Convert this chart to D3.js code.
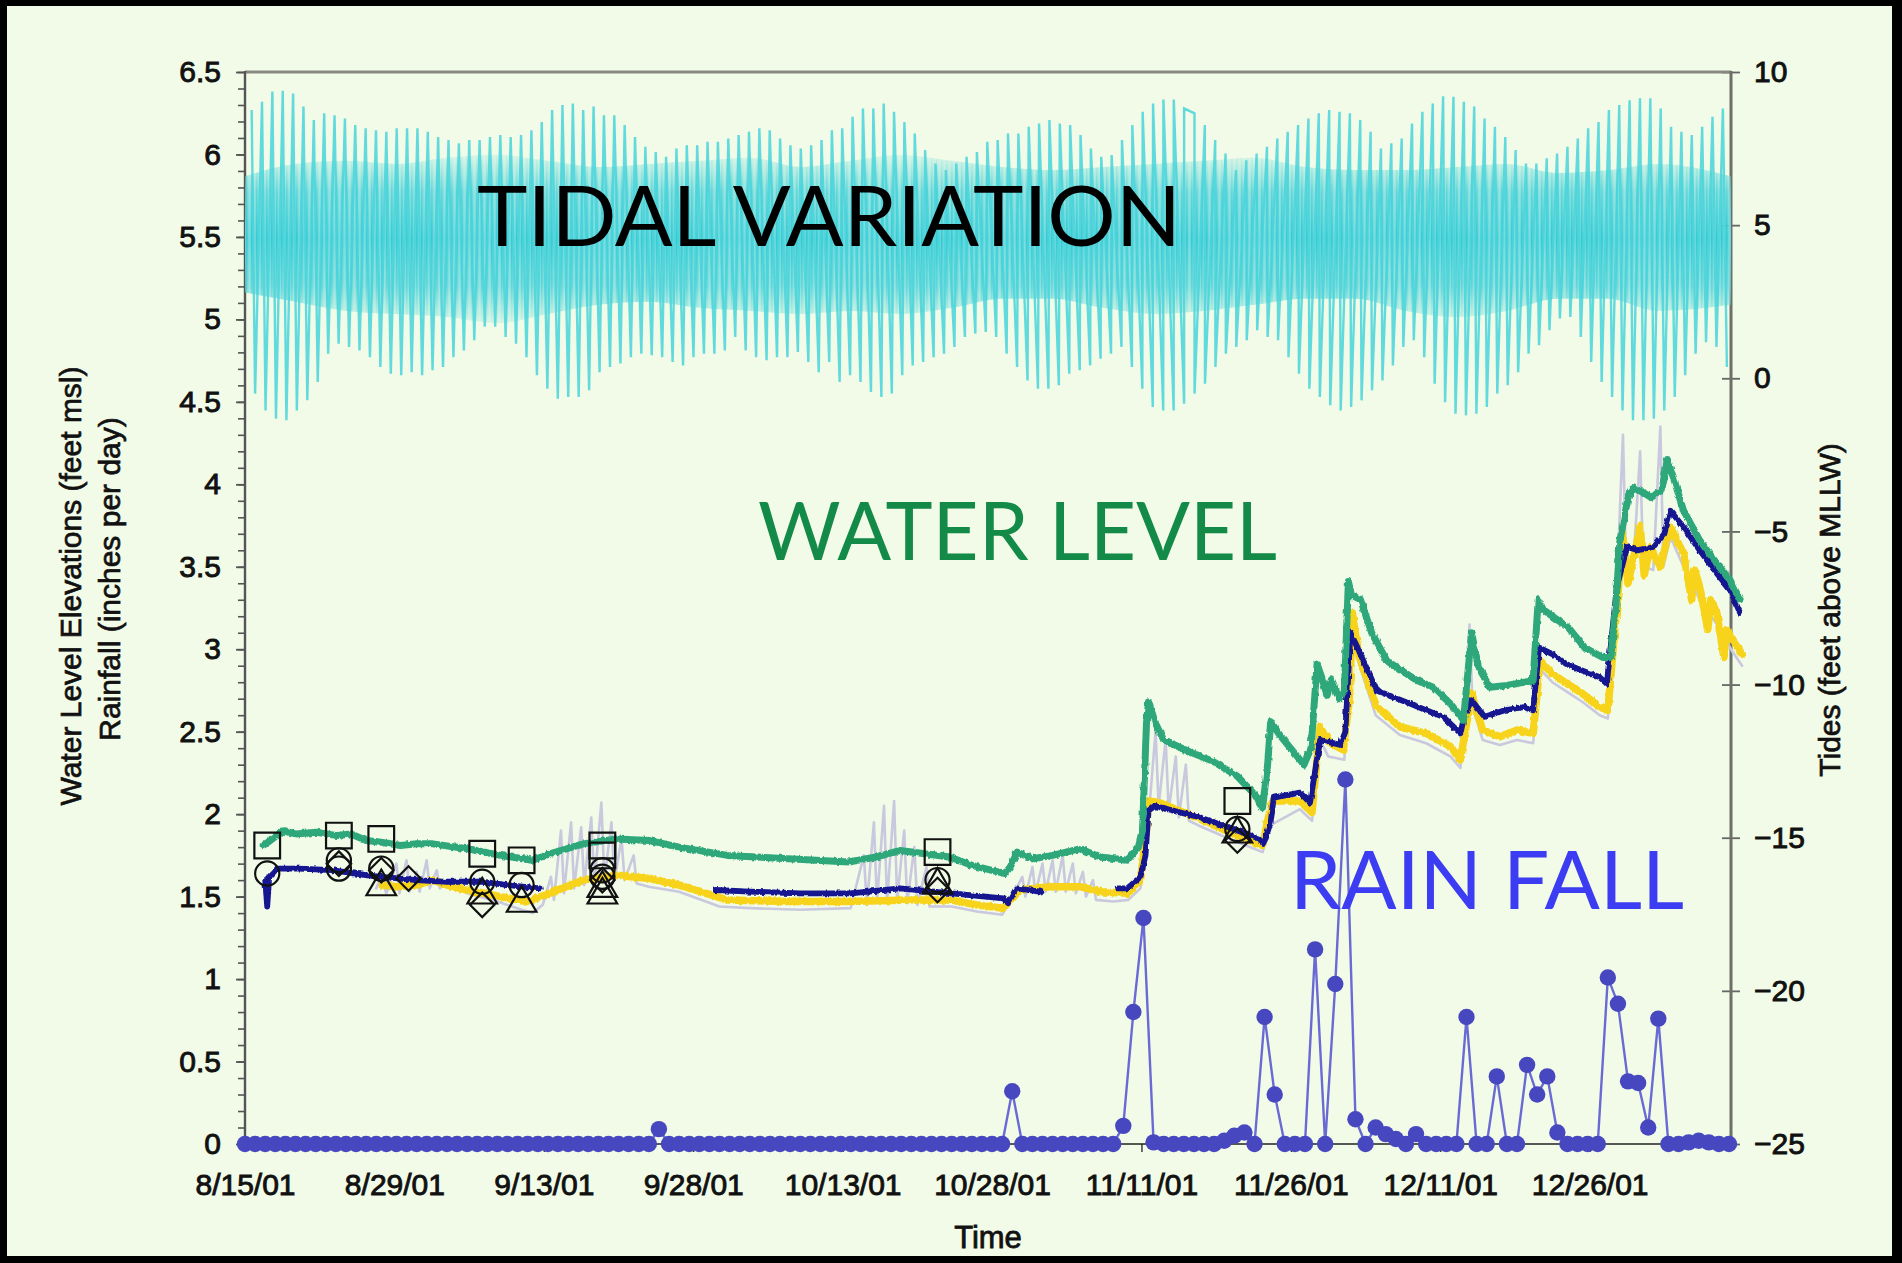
<!DOCTYPE html>
<html>
<head>
<meta charset="utf-8">
<script src="https://cdn.jsdelivr.net/npm/d3@7"></script>
<style>
  body { margin: 0; background: #000; }
  svg { display: block; }
</style>
</head>
<body>
<svg id="chart" width="1902" height="1263"></svg>
<script>
// ---------- data (days counted from 8/15/01) ----------
const xTickLabels = ["8/15/01","8/29/01","9/13/01","9/28/01","10/13/01","10/28/01","11/11/01","11/26/01","12/11/01","12/26/01"];
const xTickStepDays = 14.8;
const leftTicks = [0,0.5,1,1.5,2,2.5,3,3.5,4,4.5,5,5.5,6,6.5];
const rightTicks = [-25,-20,-15,-10,-5,0,5,10];

// Tide extremes (feet above MLLW), one high and one low per tidal day
const tideHighStart = 0.66, tideHighStep = 1.0263;
const tideHigh = [
  8.76,9.03,9.36,9.39,9.30,8.87,8.43,8.65,8.59,8.48,8.27,8.16,8.10,8.05,8.16,8.16,8.16,8.05,7.88,7.78,
  7.67,7.78,7.78,7.88,7.94,7.88,7.94,8.10,8.37,8.76,8.92,8.97,8.76,8.87,8.59,8.59,8.27,7.88,7.56,7.39,
  7.23,7.50,7.61,7.61,7.72,7.72,
  7.83,7.94,8.05,8.16,8.10,7.83,7.61,7.50,7.61,7.78,8.10,8.16,8.54,8.81,8.81,8.97,8.70,8.37,7.99,7.45,
  7.01,6.80,7.01,7.23,7.39,7.72,7.78,7.99,7.99,8.21,8.32,8.43,8.32,8.27,7.94,7.50,7.23,7.29,7.78,8.27,
  8.70,8.97,9.10,9.10,8.81,8.65,8.27,7.78,7.34,
  6.80,7.12,7.34,7.56,7.83,8.05,8.27,8.48,8.65,8.76,8.70,8.65,8.43,8.05,7.50,7.67,7.83,8.32,8.70,8.97,
  9.21,9.19,9.03,8.87,8.48,8.21,7.88,7.45,7.01,7.01,7.18,7.34,7.56,7.83,8.16,8.37,8.76,8.92,9.08,9.14,
  9.14,8.81,8.21,8.05,7.94,8.21,8.54,8.81
];
const tideLowStart = 1.0, tideLowStep = 1.034;
const tideLow = [
  -0.50,-1.05,-1.32,-1.37,-1.05,-0.72,-0.12,0.80,1.13,1.02,0.91,0.69,0.37,0.15,0.10,0.20,0.10,0.26,0.37,0.69,
  0.91,1.24,1.68,1.68,1.35,1.13,0.69,0.10,-0.34,-0.67,-0.61,-0.61,-0.39,0.20,0.37,0.48,0.69,0.80,0.75,0.69,
  0.53,0.42,0.69,0.80,0.80,0.91,
  1.35,0.91,0.69,0.59,0.69,0.69,0.86,0.53,0.20,0.53,-0.12,0.10,-0.12,-0.45,-0.61,-0.50,0.10,0.42,0.53,0.69,
  0.80,1.02,1.35,1.46,1.51,1.35,0.80,0.37,-0.07,-0.34,-0.34,-0.23,0.15,0.26,0.42,0.64,0.80,1.02,0.37,-0.34,
  -0.94,-1.05,-1.05,-0.83,-0.50,-0.18,0.37,
  0.80,1.02,1.24,1.57,1.35,1.24,0.69,0.15,-0.34,-0.61,-0.88,-1.05,-0.94,-0.72,-0.39,-0.07,0.42,1.02,1.24,0.69,
  -0.18,-0.78,-1.16,-1.21,-1.16,-0.94,-0.50,-0.23,0.20,0.80,1.08,1.57,1.95,2.00,1.35,0.53,-0.12,-0.61,-1.05,-1.37,
  -1.37,-1.32,-1.05,-0.61,0.10,0.80,1.18,1.02,0.37
];
// Dense core of the tidal record (lower high / higher low waters)
const tideCoreDays   = [0,5,10,15,20,25,30,35,40,45,50,55,60,65,70,75,80,85,90,95,100,105,110,115,120,125,130,135,140,147.2];
const tideCoreTop    = [6.6,7.0,7.1,7.0,7.2,7.3,7.1,6.9,7.0,7.1,7.2,6.9,7.1,7.3,7.1,6.9,6.8,6.9,7.0,7.1,7.2,6.9,6.8,6.8,6.9,7.0,6.7,6.8,7.0,6.6];
const tideCoreBottom = [2.8,2.5,2.2,2.1,2.0,1.8,2.1,2.4,2.5,2.3,2.2,2.1,2.2,2.1,2.3,2.6,2.6,2.3,2.1,2.2,2.4,2.6,2.6,2.2,2.0,2.2,2.6,2.6,2.2,2.4];

// Water level elevations (feet msl): [day, value]
const wellGreen = [
  [1.8,1.81],[2.5,1.84],[3.8,1.90],[5.0,1.88],[7.1,1.89],[9.1,1.87],[10.5,1.88],[12,1.84],[13.5,1.83],[15.4,1.81],[17,1.82],[18.6,1.82],[22,1.79],[25.3,1.75],
  [28.5,1.72],[30.2,1.76],[33.5,1.82],[36.8,1.85],[40.1,1.84],[43,1.80],[47.8,1.75],[53.8,1.73],[59.8,1.71],[62.5,1.74],
  [64.9,1.78],[69.8,1.74],[72,1.69],[75.3,1.64],[75.8,1.68],[76.5,1.77],[78,1.73],[80,1.75],[82.7,1.79],[84.7,1.74],
  [87.4,1.72],[88.5,1.80],[88.9,1.90],[89.3,2.55],[89.5,2.68],[90.2,2.55],[91,2.45],[93.5,2.38],[95.9,2.32],[98.3,2.23],
  [100,2.12],[100.8,2.04],[101.3,2.30],[101.6,2.56],[102.5,2.48],[104.9,2.30],[105.6,2.40],[106.2,2.91],[106.6,2.84],[107.2,2.72],
  [107.6,2.82],[108.4,2.70],[108.9,2.75],[109.3,3.41],[109.6,3.33],[110.5,3.30],[111.6,3.10],[113.1,2.93],[116.1,2.81],[117.7,2.77],
  [119.4,2.67],[120.7,2.57],[121.2,2.90],[121.5,3.10],[122.2,2.89],[123.3,2.77],[125,2.78],[127.6,2.81],[128.1,3.30],[128.6,3.24],
  [131.1,3.13],[132.7,3.01],[134.5,2.95],[135.3,2.95],[135.8,3.26],[136.2,3.66],[137,3.92],[137.5,3.98],[138.5,3.95],[139.3,3.92],
  [140.2,3.96],[140.5,4.01],[140.9,4.15],[141.5,4.04],[142.5,3.84],[144.1,3.66],[145.8,3.52],[147.1,3.42],[148.1,3.30]
];
const wellNavy = [
  [2.0,1.60],[2.2,1.44],[2.4,1.62],[3.2,1.67],[5.4,1.67],[8.6,1.66],[12,1.63],[13.5,1.62],[17,1.60],[20,1.59],
  [23.6,1.59],[26,1.57],[29.2,1.55], null,
  [46.6,1.54],[50,1.53],[55,1.52],[60,1.52],[64.9,1.55],[70,1.52],[75.1,1.49],[75.6,1.46],[76.4,1.55],[78.8,1.53], null,
  [86.4,1.55],[87.4,1.55],[88.7,1.62],[89.2,1.75],[89.5,2.02],[90.1,2.05],[94.6,1.98],[97.9,1.91],[100.5,1.85],[100.9,1.82],
  [101.6,1.95],[101.9,2.10],[104.5,2.13],[105.5,2.07],[106.5,2.45],[108.5,2.42],[109,2.50],[109.5,3.10],[110.2,3.01],[112.1,2.75],
  [113.7,2.71],[115.4,2.67],[117,2.63],[118.7,2.59],[120.4,2.49],[120.8,2.60],[121.5,2.69],[122.8,2.59],[124.8,2.63],[126.8,2.65],
  [127.6,2.63],[128.2,3.01],[129.5,2.97],[130.9,2.91],[132.5,2.87],[134.2,2.83],[134.9,2.79],[135.9,3.38],[136.9,3.62],[138,3.60],
  [139.5,3.62],[140.6,3.70],[141.2,3.84],[142.5,3.74],[144.1,3.60],[145.8,3.46],[147.1,3.36],[148.1,3.22]
];
const wellYellow = [
  [13.6,1.57],[15,1.56],[17,1.57],[18.6,1.60],[20,1.57],[22,1.54],[25.3,1.50],[27.9,1.47],[30.2,1.52],[33.5,1.60],
  [36.8,1.63],[40.1,1.61],[43,1.57],[47.8,1.48],[53.8,1.47],[59.8,1.47],[65.9,1.48],[69.8,1.48],[72.5,1.45],[75.1,1.43],
  [76.8,1.54],[79.7,1.56],[82.7,1.56],[84.7,1.53],[87.4,1.52],[88.7,1.60],[89.3,1.90],[89.5,2.08],[90.6,2.07],[94.6,1.97],
  [97.9,1.88],[100.8,1.81],[101.3,1.96],[101.8,2.08],[104.5,2.08],[105.7,2.01],[106.5,2.53],[107.5,2.43],[108.8,2.39],[109.4,2.70],
  [109.7,3.22],[110.3,2.97],[112.1,2.65],[114.4,2.53],[117,2.49],[119.4,2.41],[120.4,2.33],[121.5,2.73],[122.6,2.51],[124.3,2.47],
  [126,2.51],[127.6,2.49],[128.3,2.93],[129.5,2.85],[131,2.79],[132.5,2.73],[134.2,2.65],[135,2.63],[135.9,3.26],[136.5,3.70],
  [137.0,3.40],[137.5,3.54],[138.2,3.75],[138.6,3.45],[139.2,3.62],[140.2,3.50],[141.2,3.74],[142.5,3.58],[143.3,3.30],[143.6,3.48],
  [144.1,3.38],[144.9,3.12],[145.2,3.30],[145.8,3.22],[146.5,2.95],[146.8,3.12],[147.4,3.05],[148.3,2.97]
];
const wellGray = [
  [13,1.55],[13.5,1.62],[14,1.52],[15,1.70],[15.3,1.52],[16,1.72],[16.3,1.53],[17,1.65],[17.3,1.53],[18,1.72],
  [18.3,1.55],[19,1.66],[19.3,1.55],[20,1.60],[22,1.52],[25,1.47],[27.4,1.42],[28.5,1.40],[29.5,1.45],[30.3,1.62],
  [30.6,1.48],[31.3,1.90],[31.6,1.52],[32.3,1.95],[32.6,1.55],[33.3,1.92],[33.6,1.57],[34.3,1.98],[34.6,1.58],[35.3,2.07],
  [35.6,1.60],[36.3,1.95],[36.6,1.60],[37.3,1.85],[37.6,1.60],[38.5,1.75],[38.8,1.58],[40,1.56],[43,1.53],[47,1.44],
  [50,1.43],[55,1.42],[60,1.43],[61.3,1.75],[61.6,1.45],[62.3,1.95],[62.6,1.46],[63.3,2.05],[63.6,1.46],[64.3,2.08],
  [64.6,1.48],[65.3,1.90],[65.6,1.46],[66.3,1.80],[66.6,1.45],[67.5,1.68],[67.8,1.44],[70,1.44],[72.5,1.41],[75,1.39],
  [76,1.50],[77,1.62],[77.3,1.50],[78,1.68],[78.3,1.52],[79,1.70],[79.3,1.53],[80,1.72],[80.3,1.53],[81,1.75],
  [81.3,1.53],[82,1.70],[82.3,1.52],[83,1.65],[83.3,1.50],[84,1.60],[84.3,1.48],[86,1.47],[87.5,1.48],[88.7,1.55],
  [89.3,1.85],[89.6,2.05],[90.2,2.50],[90.5,2.05],[91.2,2.45],[91.5,2.02],[92.2,2.35],[92.5,1.98],[93.2,2.30],[93.5,1.96],
  [94.5,1.93],[97.9,1.84],[100.8,1.77],[101.5,1.93],[104.5,2.03],[105.7,1.96],[106.5,2.45],[107.3,2.35],[108.9,2.33],[109.5,3.15],
  [110.3,2.92],[112,2.60],[114.4,2.48],[117,2.43],[119.4,2.35],[120.4,2.28],[121.3,3.15],[121.6,2.65],[122.6,2.45],[124.3,2.42],
  [126,2.45],[127.6,2.43],[128.3,2.88],[129.5,2.80],[131,2.74],[132.5,2.68],[134.2,2.60],[135,2.58],[135.8,3.20],[136.2,3.85],
  [136.5,4.30],[136.8,3.50],[137.5,3.48],[138.2,4.20],[138.5,3.50],[139.5,3.48],[140.2,4.35],[140.5,3.50],[141.2,3.68],[142.5,3.50],
  [144.1,3.30],[145.8,3.15],[147.4,2.98],[148.3,2.90]
];

// Manual readings: [day, value]
const squareMarks   = [[2.2,1.81],[9.3,1.87],[13.5,1.85],[23.5,1.76],[27.4,1.72],[35.4,1.81],[35.4,1.75],[68.6,1.77],[98.3,2.08]];
const circleMarks   = [[2.2,1.64],[9.3,1.72],[9.3,1.67],[13.5,1.67],[23.5,1.59],[27.4,1.57],[35.4,1.66],[35.4,1.62],[68.6,1.60],[98.3,1.91]];
const triangleMarks = [[13.5,1.56],[23.5,1.51],[27.4,1.46],[35.4,1.55],[35.4,1.51],[68.6,1.57],[98.3,1.88]];
const diamondMarks  = [[9.3,1.70],[13.5,1.66],[16.2,1.61],[23.5,1.45],[35.4,1.60],[68.6,1.54],[98.3,1.84]];

// Daily rainfall (inches per day), one value per day from 8/15/01
const rainfall = [
  0,0,0,0,0,0,0,0,0,0,
  0,0,0,0,0,0,0,0,0,0,
  0,0,0,0,0,0,0,0,0,0,
  0,0,0,0,0,0,0,0,0,0,
  0,0.09,0,0,0,0,0,0,0,0,
  0,0,0,0,0,0,0,0,0,0,
  0,0,0,0,0,0,0,0,0,0,
  0,0,0,0,0,0,0.32,0,0,0,
  0,0,0,0,0,0,0,0.11,0.80,1.37,
  0.01,0,0,0,0,0,0,0.02,0.05,0.07,
  0,0.77,0.30,0,0,0,1.18,0,0.97,2.21,
  0.15,0,0.10,0.06,0.03,0,0.06,0,0,0,
  0,0.77,0,0,0.41,0,0,0.48,0.30,0.41,
  0.07,0,0,0,0,1.01,0.85,0.38,0.37,0.10,
  0.76,0,0,0.01,0.02,0.01,0,0
];

// ---------- layout ----------
const W = 1902, H = 1263;
const P = { left: 245, right: 1731, top: 72, bottom: 1144 };
const DAY = 86400000;
const t0 = Date.UTC(2001, 7, 15);
const dayDate = d => new Date(t0 + d * DAY);

const x  = d3.scaleUtc().domain([dayDate(0), dayDate(147.2)]).range([P.left, P.right]);
const yL = d3.scaleLinear().domain([0, 6.5]).range([P.bottom, P.top]);
const yR = d3.scaleLinear().domain([-25, 10]).range([P.bottom, P.top]);

const AXIS_FONT = "'Liberation Sans', Arial, Helvetica, sans-serif";
const svg = d3.select("#chart");
const defs = svg.append("defs");

// vertical hatching that gives the tidal core its line-built texture
const pat = defs.append("pattern").attr("id", "tideMesh").attr("patternUnits", "userSpaceOnUse")
  .attr("width", 5).attr("height", 40);
pat.append("rect").attr("width", 5).attr("height", 40).attr("fill", "#86dfe2");
pat.append("rect").attr("x", 0.6).attr("width", 2.2).attr("height", 40).attr("fill", "#33cbd3");
pat.append("rect").attr("x", 3.4).attr("width", 0.9).attr("height", 40).attr("fill", "#52d3d9");

// the core fades out towards its upper and lower edges
const grad = defs.append("linearGradient").attr("id", "coreFade").attr("x1", 0).attr("y1", 0).attr("x2", 0).attr("y2", 1);
[[0, 0.15], [0.22, 0.75], [0.5, 1], [0.78, 0.75], [1, 0.15]].forEach(([o, a]) =>
  grad.append("stop").attr("offset", o).attr("stop-color", "#fff").attr("stop-opacity", a));
const mask = defs.append("mask").attr("id", "coreMask").attr("maskContentUnits", "objectBoundingBox");
mask.append("rect").attr("width", 1).attr("height", 1).attr("fill", "url(#coreFade)");

// slight roughness on the logger traces
const rough = defs.append("filter").attr("id", "rough").attr("x", "-2%").attr("y", "-20%").attr("width", "104%").attr("height", "140%");
rough.append("feTurbulence").attr("type", "fractalNoise").attr("baseFrequency", "0.35 0.12").attr("numOctaves", 2).attr("seed", 3).attr("result", "n");
rough.append("feDisplacementMap").attr("in", "SourceGraphic").attr("in2", "n").attr("scale", 3.5)
  .attr("xChannelSelector", "R").attr("yChannelSelector", "G");

// frame and background
svg.append("rect").attr("width", W).attr("height", H).attr("fill", "#000");
svg.append("rect").attr("x", 7).attr("y", 6).attr("width", W - 17).attr("height", H - 13).attr("fill", "#f1fbe7");

// ---------- axes ----------
const gL = svg.append("g").attr("transform", `translate(${P.left},0)`);
gL.call(d3.axisLeft(yL).tickValues(d3.range(0, 66).map(i => i / 10)).tickSize(7).tickFormat(""));
gL.selectAll(".tick line").attr("stroke", "#555").attr("stroke-width", 1.6);
gL.select(".domain").remove();
const gL2 = svg.append("g").attr("transform", `translate(${P.left},0)`);
gL2.call(d3.axisLeft(yL).tickValues(leftTicks).tickSize(9).tickPadding(15).tickFormat(d3.format("~g")));
gL2.select(".domain").remove();
gL2.selectAll(".tick line").attr("stroke", "#555").attr("stroke-width", 1.8);

const gR = svg.append("g").attr("transform", `translate(${P.right},0)`);
gR.call(d3.axisRight(yR).tickValues(rightTicks).tickSize(9).tickPadding(14).tickFormat(d3.format("~g")));
gR.select(".domain").remove();
gR.selectAll(".tick line").attr("x1", -9).attr("x2", 9).attr("stroke", "#666").attr("stroke-width", 1.8);

const gB = svg.append("g").attr("transform", `translate(0,${P.bottom})`);
gB.call(d3.axisBottom(x)
  .tickValues(xTickLabels.map((_, i) => dayDate(i * xTickStepDays)))
  .tickSize(8).tickPadding(22)
  .tickFormat((d, i) => xTickLabels[i]));
gB.select(".domain").remove();
gB.selectAll(".tick line").attr("stroke", "#333").attr("stroke-width", 1.4);

[gL2, gR, gB].forEach(g => g.selectAll(".tick text")
  .attr("font-family", AXIS_FONT).attr("font-size", 30).attr("fill", "#111")
  .attr("stroke", "#111").attr("stroke-width", 0.9));

// axis lines
svg.append("line").attr("x1", P.left).attr("x2", P.right).attr("y1", P.top).attr("y2", P.top)
  .attr("stroke", "#8a8a84").attr("stroke-width", 3);
svg.append("line").attr("x1", P.left).attr("x2", P.right).attr("y1", P.bottom).attr("y2", P.bottom)
  .attr("stroke", "#222").attr("stroke-width", 1.6);
svg.append("line").attr("x1", P.left).attr("x2", P.left).attr("y1", P.top - 1).attr("y2", P.bottom)
  .attr("stroke", "#555").attr("stroke-width", 2.4);
svg.append("line").attr("x1", P.right).attr("x2", P.right).attr("y1", P.top - 1).attr("y2", P.bottom)
  .attr("stroke", "#6f6f6a").attr("stroke-width", 3);

// axis titles
function rotText(cx, cy, txt, size) {
  svg.append("text").attr("transform", `translate(${cx},${cy}) rotate(-90)`)
    .attr("text-anchor", "middle").attr("dominant-baseline", "central")
    .attr("font-family", AXIS_FONT).attr("font-size", size).attr("fill", "#111")
    .attr("stroke", "#111").attr("stroke-width", 0.7)
    .text(txt);
}
rotText(70, 586, "Water Level Elevations (feet msl)", 30);
rotText(109, 579, "Rainfall (inches per day)", 30);
rotText(1829, 610, "Tides (feet above MLLW)", 30);
svg.append("text").attr("x", (P.left + P.right) / 2).attr("y", 1248)
  .attr("text-anchor", "middle").attr("font-family", AXIS_FONT).attr("font-size", 31)
  .attr("fill", "#111").attr("stroke", "#111").attr("stroke-width", 0.8).text("Time");

// ---------- tides ----------
const TIDE = "#48d4da";
const core = tideCoreDays.map((d, i) => [d, tideCoreTop[i], tideCoreBottom[i]]);
svg.append("path").datum(core)
  .attr("d", d3.area().x(p => x(dayDate(p[0]))).y0(p => yR(p[2])).y1(p => yR(p[1])).curve(d3.curveMonotoneX))
  .attr("fill", "url(#tideMesh)").attr("mask", "url(#coreMask)");

const tideSeq = tideHigh.map((v, i) => [tideHighStart + i * tideHighStep, v])
  .concat(tideLow.map((v, i) => [tideLowStart + i * tideLowStep, v]))
  .sort((a, b) => a[0] - b[0]);
svg.append("path").datum(tideSeq)
  .attr("d", d3.line().x(p => x(dayDate(p[0]))).y(p => yR(p[1])))
  .attr("fill", "none").attr("stroke", TIDE).attr("stroke-width", 2.4).attr("stroke-opacity", 0.85);

// ---------- water levels ----------
const wl = d3.line().defined(p => p !== null).x(p => x(dayDate(p[0]))).y(p => yL(p[1]));
function series(data, color, width, op, filtered) {
  const p = svg.append("path").datum(data).attr("d", wl).attr("fill", "none")
    .attr("stroke", color).attr("stroke-width", width).attr("stroke-opacity", op)
    .attr("stroke-linejoin", "round").attr("stroke-linecap", "round");
  if (filtered) p.attr("filter", "url(#rough)");
}
series(wellGray, "#c9c8de", 2.6, 1, false);
series(wellYellow, "#f7d31a", 7.5, 1, true);
series(wellNavy, "#141490", 5.8, 1, true);
series(wellGreen, "#2fa87a", 7, 1, true);

// manual readings
function marks(data, type, size, rot) {
  svg.append("g").selectAll("path").data(data).join("path")
    .attr("d", d3.symbol().type(type).size(size))
    .attr("transform", p => `translate(${x(dayDate(p[0]))},${yL(p[1])}) rotate(${rot})`)
    .attr("fill", "none").attr("stroke", "#111").attr("stroke-width", 2.2);
}
marks(squareMarks, d3.symbolSquare, 660, 0);
marks(circleMarks, d3.symbolCircle, 460, 0);
marks(triangleMarks, d3.symbolTriangle, 380, 0);
marks(diamondMarks, d3.symbolSquare, 300, 45);

// ---------- rainfall ----------
const rainPts = rainfall.map((v, i) => [i, v]);
svg.append("path").datum(rainPts).attr("d", wl)
  .attr("fill", "none").attr("stroke", "#6a6ad4").attr("stroke-width", 2.4);
svg.append("g").selectAll("circle").data(rainPts).join("circle")
  .attr("cx", p => x(dayDate(p[0]))).attr("cy", p => yL(p[1])).attr("r", 8.2)
  .attr("fill", "#4747c0");

// ---------- annotations ----------
const BIG = "Lato, 'Open Sans', sans-serif";
svg.append("text").attr("x", 477).attr("y", 246).attr("font-family", BIG).attr("font-size", 84)
  .attr("fill", "#000").attr("textLength", 704).attr("lengthAdjust", "spacingAndGlyphs").text("TIDAL VARIATION");
svg.append("text").attr("x", 758).attr("y", 560).attr("font-family", BIG).attr("font-size", 82)
  .attr("fill", "#148a48").attr("textLength", 519).attr("lengthAdjust", "spacingAndGlyphs").text("WATER LEVEL");
svg.append("text").attr("x", 1290).attr("y", 909).attr("font-family", BIG).attr("font-size", 82)
  .attr("fill", "#3c3cf2").attr("textLength", 394).attr("lengthAdjust", "spacingAndGlyphs").text("RAIN FALL");
</script>
</body>
</html>
